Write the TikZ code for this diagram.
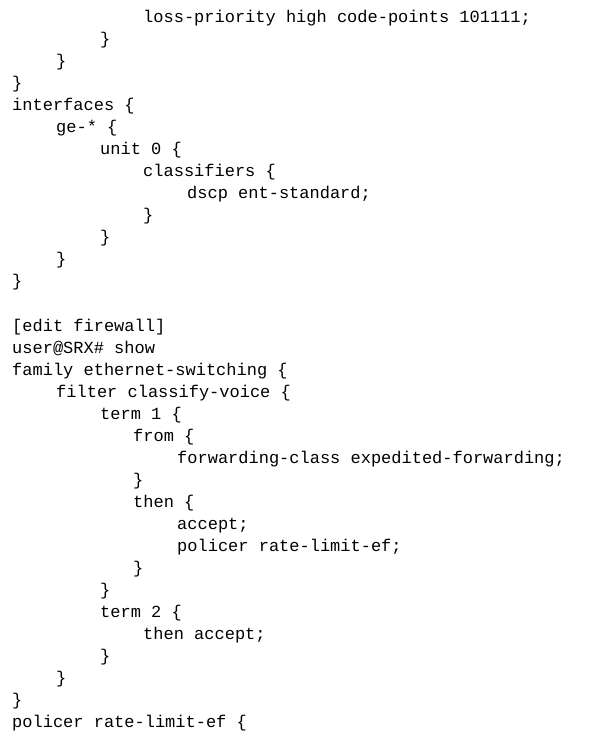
\documentclass[tikz,border=0pt]{standalone}
\usepackage{fontspec}
\setmonofont{Liberation Mono}
\begin{document}
\begin{tikzpicture}[x=1pt,y=-1pt,
  codeline/.style={anchor=base west,inner sep=0pt,font=\ttfamily\fontsize{17}{17}\selectfont}]
\useasboundingbox[fill=white] (0,0) rectangle (601,739);
\foreach \x/\y/\t [count=\i] in {
143/22/{loss-priority high code-points 101111;},
100/44/\},
56/66/\},
12/88/\},
12/110/{interfaces \{},
56/132/{ge-* \{},
100/154/{unit 0 \{},
143/176/{classifiers \{},
187/198/{dscp ent-standard;},
143/220/\},
100/242/\},
56/264/\},
12/286/\},
12/331/{[edit firewall]},
12/353/{user@SRX\# show},
12/375/{family ethernet-switching \{},
56/397/{filter classify-voice \{},
100/419/{term 1 \{},
133/441/{from \{},
177/463/{forwarding-class expedited-forwarding;},
133/485/\},
133/507/{then \{},
177/529/{accept;},
177/551/{policer rate-limit-ef;},
133/573/\},
100/595/\},
100/617/{term 2 \{},
143/639/{then accept;},
100/661/\},
56/683/\},
12/705/\},
12/727/{policer rate-limit-ef \{}}
  \node[codeline] (l\i) at (\x,\y) {\t};
\end{tikzpicture}
\end{document}
